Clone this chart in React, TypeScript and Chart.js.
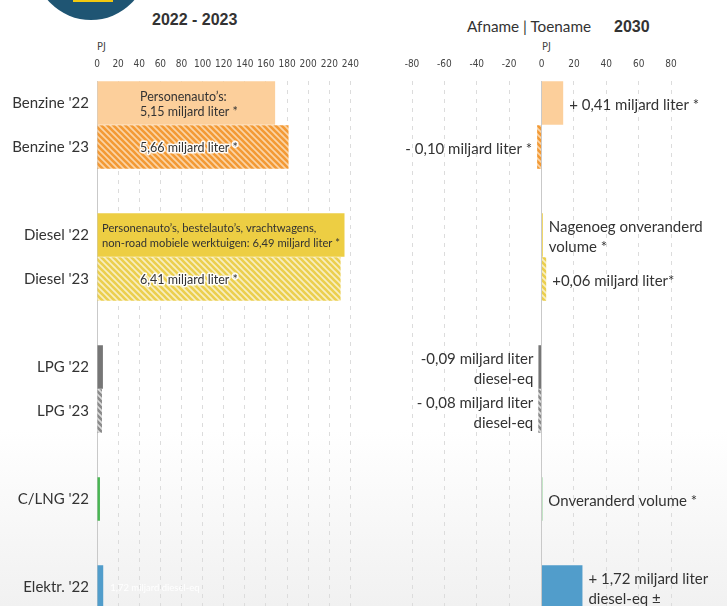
import React, { useEffect, useRef } from 'react';
import { Chart, registerables } from 'chart.js';

Chart.register(...registerables);

// ---------- data ----------
const categories = [
  "Benzine '22", "Benzine '23", '',
  "Diesel '22", "Diesel '23", '',
  "LPG '22", "LPG '23", '',
  "C/LNG '22", '',
  "Elektr. '22",
];

// PJ, 2022 - 2023
const pj2022_2023: (number | null)[] = [168.7, 181.4, null, 234.4, 230.7, null, 5.6, 4.7, null, 2.8, null, 5.9];
// PJ change towards 2030 (Afname | Toename)
const pj2030Change: (number | null)[] = [13.4, -2.7, null, 0.8, 2.9, null, -1.9, -2.0, null, 0.5, null, 25.3];

const leftAxisMin = 0;
const leftAxisMax = 240;
const rightAxisMin = -80;
const rightAxisMax = 80;
const tickStep = 20;

const leftBarLabels: (string[] | null)[] = [
  ['Personenauto\u2019s:', '5,15 miljard liter *'],
  ['5,66 miljard liter *'],
  null,
  ['Personenauto\u2019s, bestelauto\u2019s, vrachtwagens,', 'non-road mobiele werktuigen: 6,49 miljard liter *'],
  ['6,41 miljard liter *'],
  null, null, null, null, null, null,
  ['1,72 miljard diesel-eq'],
];

const rightBarLabels: (string[] | null)[] = [
  ['+ 0,41 miljard liter *'],
  ['- 0,10 miljard liter *'],
  null,
  ['Nagenoeg onveranderd', 'volume *'],
  ['+0,06 miljard liter*'],
  null,
  ['-0,09 miljard liter', 'diesel-eq'],
  ['- 0,08 miljard liter', 'diesel-eq'],
  null,
  ['Onveranderd volume *'],
  null,
  ['+ 1,72 miljard liter', 'diesel-eq \u00b1'],
];

// ---------- helpers ----------
function makeStripes(bg: string, fg: string) {
  const s = 6;
  const c = document.createElement('canvas');
  c.width = s;
  c.height = s;
  const g = c.getContext('2d')!;
  g.fillStyle = bg;
  g.fillRect(0, 0, s, s);
  g.strokeStyle = fg;
  g.lineWidth = 2.6;
  g.beginPath();
  for (const k of [-s, 0, s]) {
    g.moveTo(k - 1, -1);
    g.lineTo(k + s + 1, s + 1);
  }
  g.stroke();
  return g.createPattern(c, 'repeat') as CanvasPattern;
}

function buildColors() {
  const benz23 = makeStripes('#FBD4A6', '#F39A35');
  const dies23 = makeStripes('#F8EEC0', '#EBCF4E');
  const lpg23 = makeStripes('#DCDCDC', '#8A8A8A');
  return [
    '#FCCF9B', benz23, '#fff',
    '#EDCE43', dies23, '#fff',
    '#767676', lpg23, '#fff',
    '#49B653', '#fff',
    '#519DCB',
  ];
}

const TEXT = '#333333';
const TICK_FONT = "'DejaVu Sans Condensed', 'Liberation Sans Narrow', Lato, sans-serif";

const gridColor = (c: any) => (c.tick && c.tick.value === 0 ? '#c9c9c9' : '#dcdcdc');
const gridDash = (c: any) => (c.tick && c.tick.value === 0 ? [] : [4, 5]);

const leftLabelPlugin = {
  id: 'leftLabels',
  afterDatasetsDraw(chart: any) {
    const ctx = chart.ctx;
    const meta = chart.getDatasetMeta(0);
    const base = chart.scales.x.getPixelForValue(0);
    ctx.save();
    ctx.textBaseline = 'middle';
    ctx.textAlign = 'left';
    meta.data.forEach((bar: any, i: number) => {
      const lines = leftBarLabels[i];
      if (!lines || pj2022_2023[i] == null) return;
      const end = bar.x;
      const barW = end - base;
      const outside = barW < 30;
      let size = outside ? 9.5 : 12.5;
      ctx.font = `${size}px Lato`;
      let w = Math.max(...lines.map((l) => ctx.measureText(l).width));
      let x: number;
      if (outside) x = end + 7;
      else if (base + 43 + w <= end) x = base + 43;
      else {
        x = base + 5;
        if (w > barW - 9) {
          size = (size * (barW - 9)) / w;
          ctx.font = `${size}px Lato`;
          w = barW - 9;
        }
      }
      const hatched = typeof bar.options.backgroundColor !== 'string';
      lines.forEach((l, k) => {
        const y = bar.y + (k - (lines.length - 1) / 2) * 15 + 1;
        if (outside) {
          ctx.fillStyle = 'rgba(255,255,255,0.95)';
          ctx.fillText(l, x, y);
          return;
        }
        if (hatched) {
          ctx.strokeStyle = 'rgba(255,255,255,0.95)';
          ctx.lineWidth = 3;
          ctx.lineJoin = 'round';
          ctx.strokeText(l, x, y);
        }
        ctx.fillStyle = TEXT;
        ctx.fillText(l, x, y);
      });
    });
    ctx.restore();
  },
};

const rightLabelPlugin = {
  id: 'rightLabels',
  afterDatasetsDraw(chart: any) {
    const ctx = chart.ctx;
    const meta = chart.getDatasetMeta(0);
    ctx.save();
    ctx.font = '15px Lato';
    ctx.textBaseline = 'middle';
    ctx.fillStyle = TEXT;
    meta.data.forEach((bar: any, i: number) => {
      const lines = rightBarLabels[i];
      const v = pj2030Change[i];
      if (!lines || v == null) return;
      const positive = v >= 0;
      ctx.textAlign = positive ? 'left' : 'right';
      const x = positive ? bar.x + 6 : bar.x - 5;
      lines.forEach((l, k) => {
        const y = bar.y + (k - (lines.length - 1) / 2) * 20 + 2;
        ctx.fillText(l, x, y);
      });
    });
    ctx.restore();
  },
};

function xScale(min: number, max: number) {
  return {
    position: 'top' as const,
    min,
    max,
    ticks: {
      stepSize: tickStep,
      padding: 11,
      color: '#444',
      autoSkip: false,
      maxRotation: 0,
      font: { family: TICK_FONT, size: 10 },
    },
    grid: { drawTicks: false, color: gridColor, lineWidth: 1 },
    border: { display: false, dash: gridDash },
    afterFit: (s: any) => {
      s.height = 81;
    },
  };
}

export default function App() {
  const leftRef = useRef<HTMLCanvasElement>(null);
  const rightRef = useRef<HTMLCanvasElement>(null);

  useEffect(() => {
    const colors = buildColors();
    const left = new Chart(leftRef.current!, {
      type: 'bar',
      data: {
        labels: categories,
        datasets: [
          {
            data: pj2022_2023,
            backgroundColor: colors as any,
            borderWidth: 0,
            barPercentage: 0.99,
            categoryPercentage: 1,
          },
        ],
      },
      options: {
        indexAxis: 'y',
        animation: false,
        responsive: false,
        maintainAspectRatio: false,
        layout: { padding: { left: 0, right: 16, top: 0, bottom: 1 } },
        plugins: { legend: { display: false }, tooltip: { enabled: false } },
        scales: {
          x: xScale(leftAxisMin, leftAxisMax) as any,
          y: {
            ticks: { padding: 8, color: TEXT, autoSkip: false, font: { family: 'Lato', size: 15 } },
            grid: { display: false, drawTicks: false },
            border: { display: false },
            afterFit: (s: any) => {
              s.width = 97;
              s.paddingTop = 0;
              s.paddingBottom = 0;
            },
          },
        },
      },
      plugins: [leftLabelPlugin],
    });

    const right = new Chart(rightRef.current!, {
      type: 'bar',
      data: {
        labels: categories,
        datasets: [
          {
            data: pj2030Change,
            backgroundColor: colors as any,
            borderWidth: 0,
            barPercentage: 0.99,
            categoryPercentage: 1,
          },
        ],
      },
      options: {
        indexAxis: 'y',
        animation: false,
        responsive: false,
        maintainAspectRatio: false,
        layout: { padding: { left: 42, right: 56, top: 0, bottom: 1 } },
        plugins: { legend: { display: false }, tooltip: { enabled: false } },
        scales: {
          x: xScale(rightAxisMin, rightAxisMax) as any,
          y: { display: false },
        },
      },
      plugins: [rightLabelPlugin],
    });

    return () => {
      left.destroy();
      right.destroy();
    };
  }, []);

  const abs = (s: React.CSSProperties): React.CSSProperties => ({ position: 'absolute', whiteSpace: 'nowrap', ...s });

  return (
    <div
      style={{
        position: 'fixed',
        left: 0,
        top: 0,
        width: 727,
        height: 606,
        overflow: 'hidden',
        background: 'linear-gradient(to bottom, #ffffff 0px, #ffffff 430px, #f1f1f1 606px)',
        fontFamily: 'Lato, sans-serif',
        color: TEXT,
      }}
    >
      {/* logo */}
      <div style={abs({ left: 34, top: -94, width: 114, height: 114, borderRadius: '50%', background: '#1F5573' })} />
      <div style={abs({ left: 73, top: -10, width: 40, height: 11.5, background: '#F2C80F' })} />

      <div style={abs({ left: 152, top: 12, fontFamily: "'Liberation Sans', Arial, sans-serif", fontWeight: 'bold', fontSize: 16, lineHeight: '16px' })}>
        2022 - 2023
      </div>
      <div style={abs({ left: 467, top: 17, fontSize: 15.3, lineHeight: '18px' })}>Afname | Toename</div>
      <div style={abs({ left: 614, top: 19, fontFamily: "'Liberation Sans', Arial, sans-serif", fontWeight: 'bold', fontSize: 16, lineHeight: '16px' })}>
        2030
      </div>
      <div style={abs({ left: 97, top: 40, fontFamily: TICK_FONT, fontSize: 11, lineHeight: '14px', color: '#444' })}>PJ</div>
      <div style={abs({ left: 542, top: 40, fontFamily: TICK_FONT, fontSize: 11, lineHeight: '14px', color: '#444' })}>PJ</div>

      <canvas ref={leftRef} width={370} height={610} style={{ position: 'absolute', left: 0, top: 0, display: 'block' }} />
      <canvas ref={rightRef} width={357} height={610} style={{ position: 'absolute', left: 370, top: 0, display: 'block' }} />
    </div>
  );
}
